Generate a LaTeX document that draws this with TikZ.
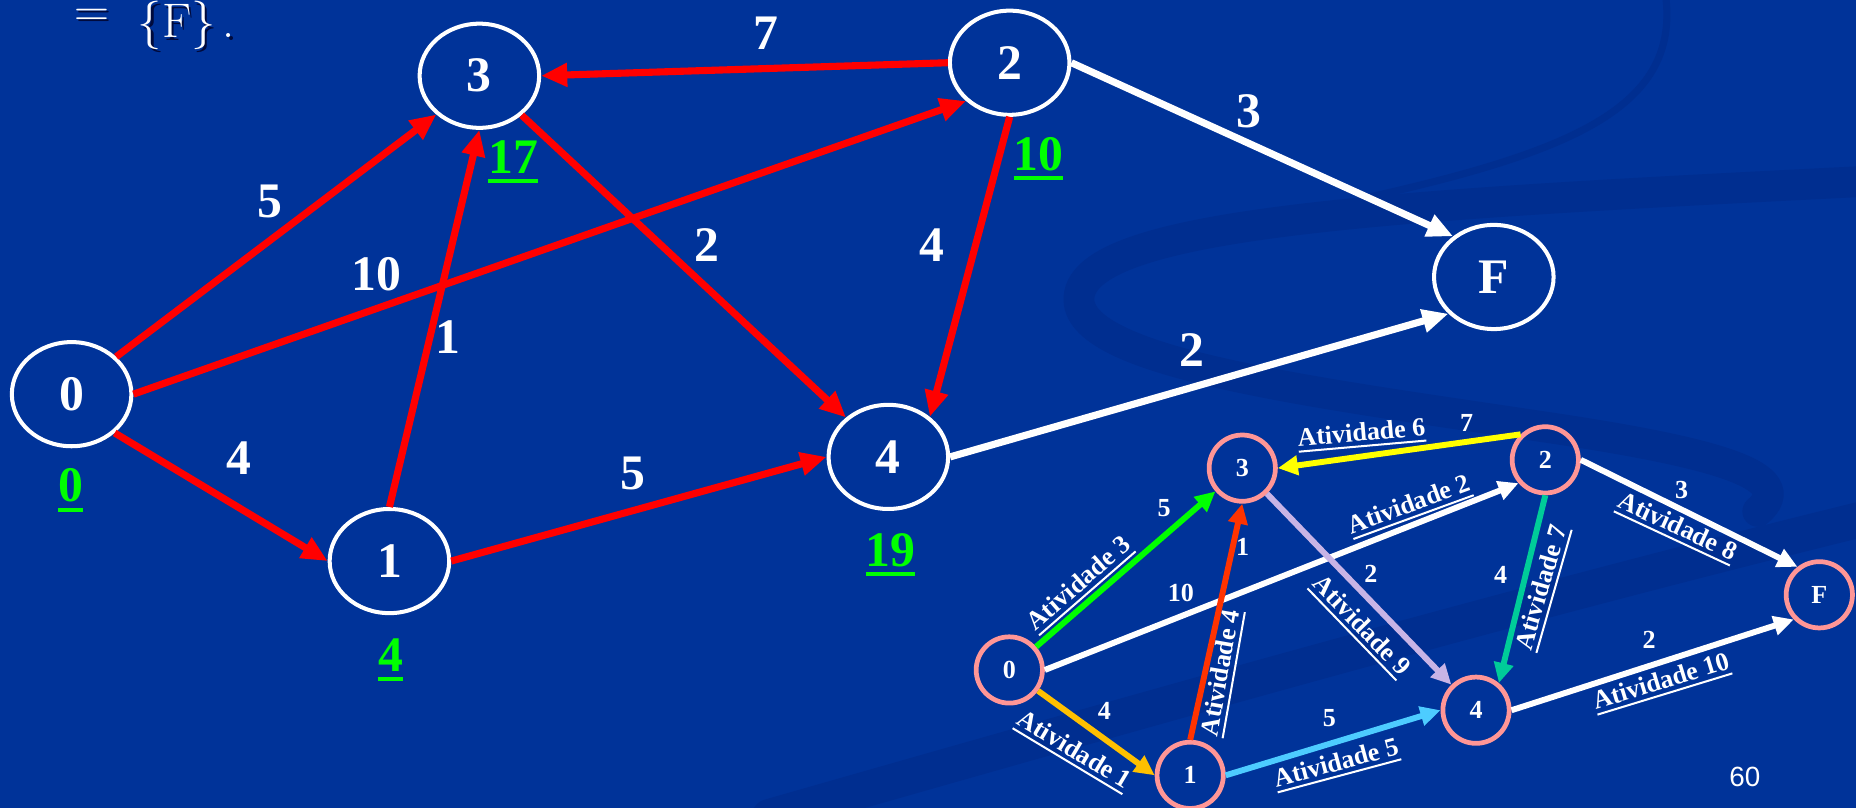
\documentclass[tikz,border=0pt]{standalone}
\usepackage{fontspec}
\newfontfamily\tnr{Liberation Serif}
\newfontfamily\arialf{Liberation Sans}
\usetikzlibrary{arrows.meta,shapes.geometric}
\definecolor{bg}{RGB}{0,51,153}
\definecolor{swirlc}{RGB}{0,46,144}
\definecolor{pinkc}{RGB}{255,150,150}
\definecolor{grn}{RGB}{0,255,0}
\definecolor{orangec}{RGB}{255,192,0}
\definecolor{redor}{RGB}{255,51,0}
\definecolor{lblue}{RGB}{77,204,255}
\definecolor{lav}{RGB}{200,180,230}
\definecolor{yel}{RGB}{255,255,0}
\definecolor{tealc}{RGB}{0,204,153}
\definecolor{shadowc}{RGB}{0,10,60}
\newsavebox\ulsave
\newcommand\ulbox[3]{\sbox\ulsave{#3}\rlap{\rule[-#1]{\wd\ulsave}{#2}}\usebox\ulsave}
\newcommand\bigfnt{\tnr\bfseries\fontsize{42}{42}\selectfont}
\newcommand\smallfnt{\tnr\bfseries\fontsize{22}{22}\selectfont}
\newcommand\atv[1]{\ulbox{5.3pt}{1.7pt}{Atividade #1}}
\newcommand\gul[1]{\ulbox{8.2pt}{3.4pt}{#1}}
\newcommand\eqtext{\raisebox{10pt}{=}\hspace{24pt}\{F\}\hspace{6pt}.}
\tikzset{
  bignode/.style={draw=white, line width=3.4pt, ellipse, minimum width=101pt, minimum height=88pt, inner sep=0pt, text=white, font=\bigfnt},
  smallnode/.style={draw=pinkc, line width=4pt, circle, minimum size=56pt, inner sep=0pt, text=white, font=\smallfnt},
  bigedge/.style={line width=6pt, -{Triangle[length=22pt,width=19pt]}},
  smalledge/.style={line width=5pt, -{Triangle[length=17pt,width=16pt]}},
  biglab/.style={text=white, font=\bigfnt, inner sep=0pt},
  greenlab/.style={text=grn, font=\bigfnt, inner sep=0pt, anchor=base},
  smalllab/.style={text=white, font=\smallfnt, inner sep=0pt},
  swirl/.style={draw=swirlc, line cap=round}
}
\begin{document}
\begin{tikzpicture}[x=1pt,y=-1pt]
\useasboundingbox (0,0) rectangle (1568,682.6);
\fill[bg] (0,0) rectangle (1568,682.6);
% background swirls
\draw[swirl, line width=26pt] (1600,152) .. controls (1200,172) and (925,185) .. (912,248) .. controls (900,305) and (1100,330) .. (1300,360) .. controls (1450,382) and (1520,402) .. (1485,432);
\draw[swirl, line width=30pt] (1600,432) .. controls (1300,505) and (1000,590) .. (650,690);
\draw[swirl, line width=6pt] (1407,-5) .. controls (1420,90) and (1330,128) .. (1150,168);

% top text
\node[anchor=base west, inner sep=0pt, text=shadowc, font=\fontsize{41}{41}\selectfont] (eqs) at (64.7,34) {\eqtext};
\node[anchor=base west, inner sep=0pt, text=white, font=\fontsize{41}{41}\selectfont] (eq) at (62.7,32) {\eqtext};

% big diagram nodes
\node[bignode] (b0) at (60.5,333) {0};
\node[bignode] (b1) at (329,474) {1};
\node[bignode] (b3) at (405,64) {3};
\node[bignode] (b2) at (853,53) {2};
\node[bignode] (b4) at (750.5,386) {4};
\node[bignode] (bF) at (1262,234) {F};

% big edges
\draw[bigedge, red] (b0.40) -- (b3.222);
\draw[bigedge, red] (b0.east) -- (b2.south west);
\draw[bigedge, red] (b0.-42) -- (b1.west);
\draw[bigedge, red] (b1.north) -- (b3.south);
\draw[bigedge, red] (b1.east) -- (b4.west);
\draw[bigedge, red] (b3) -- (b4);
\draw[bigedge, red] (b2.west) -- (b3.east);
\draw[bigedge, red] (b2.south) -- (b4.44);
\draw[bigedge, white] (b2.east) -- (bF.135);
\draw[bigedge, white] (b4.east) -- (bF.219);

% big edge labels
\node[biglab] (e23) at (647,28) {7};
\node[biglab] (e2F) at (1055,94) {3};
\node[biglab] (e03) at (228,170) {5};
\node[biglab] (e02) at (318,232) {10};
\node[biglab] (e34) at (597,207) {2};
\node[biglab] (e24) at (787,207) {4};
\node[biglab] (e13) at (378.7,284.4) {1};
\node[biglab] (e4F) at (1007,296) {2};
\node[biglab] (e01) at (202.2,387.2) {4};
\node[biglab] (e14) at (535,400) {5};

% green times
\node[greenlab] (g0) at (59.7,424) {\gul{0}};
\node[greenlab] (g3) at (433.4,146.6) {\gul{17}};
\node[greenlab] (g2) at (877.3,143.7) {\gul{10}};
\node[greenlab] (g4) at (752.4,478.8) {\gul{19}};
\node[greenlab] (g1) at (330,567) {\gul{4}};

% small diagram nodes
\node[smallnode] (s0) at (852.7,566) {0};
\node[smallnode] (s1) at (1005.5,655) {1};
\node[smallnode] (s3) at (1049.5,395.5) {3};
\node[smallnode] (s2) at (1305.5,388.5) {2};
\node[smallnode] (s4) at (1247,600) {4};
\node[smallnode] (sF) at (1537,502.5) {F};

% small edges
\draw[smalledge, white] (s0.east) -- (s2.221);
\draw[smalledge, grn] (s0) -- (s3);
\draw[smalledge, orangec] (s0) -- (s1.west);
\draw[smalledge, lav] (s3) -- (s4);
\draw[smalledge, redor] (s1.north) -- (s3.south);
\draw[smalledge, lblue] (s1.east) -- (s4.west);
\draw[smalledge, yel] (s2.134) -- (s3.east);
\draw[smalledge, tealc] (s2.south) -- (s4.50);
\draw[smalledge, white] (s2.east) -- (sF.128);
\draw[smalledge, white] (s4.east) -- (sF.224);

% small labels
\node[smalllab] (n03) at (983.4,429.4) {5};
\node[smalllab, rotate=41] (a3) at (912.4,494.2) {\atv{3}};
\node[smalllab] (n02) at (997.7,501.2) {10};
\node[smalllab] (n13) at (1049.8,461.8) {1};
\node[smalllab, rotate=80] (a4) at (1033,568.8) {\atv{4}};
\node[smalllab] (n34) at (1158.2,484.9) {2};
\node[smalllab, rotate=-46] (a9) at (1148.9,529.4) {\atv{9}};
\node[smalllab] (n01) at (932.9,600.7) {4};
\node[smalllab, rotate=-31] (a1) at (906.7,635) {\atv{1}};
\node[smalllab] (n14) at (1123,606.9) {5};
\node[smalllab, rotate=15] (a5) at (1129.2,646.3) {\atv{5}};
\node[smalllab, rotate=5] (a6) at (1150.3,367.5) {\atv{6}};
\node[smalllab] (n23) at (1239,357.6) {7};
\node[smalllab, rotate=20] (a2) at (1191,428) {\atv{2}};
\node[smalllab, rotate=74] (a7) at (1303.8,497) {\atv{7}};
\node[smalllab] (n24) at (1267.8,485.8) {4};
\node[smalllab] (n2F) at (1420.7,414) {3};
\node[smalllab, rotate=-25] (a8) at (1416.4,446.3) {\atv{8}};
\node[smalllab] (n4F) at (1393.3,540.7) {2};
\node[smalllab, rotate=17] (a10) at (1403.8,577.3) {\atv{10}};

% page number
\node[text=white, inner sep=0pt, font=\arialf\fontsize{23.5}{23.5}\selectfont] (pg) at (1474,656) {60};
\end{tikzpicture}
\end{document}
